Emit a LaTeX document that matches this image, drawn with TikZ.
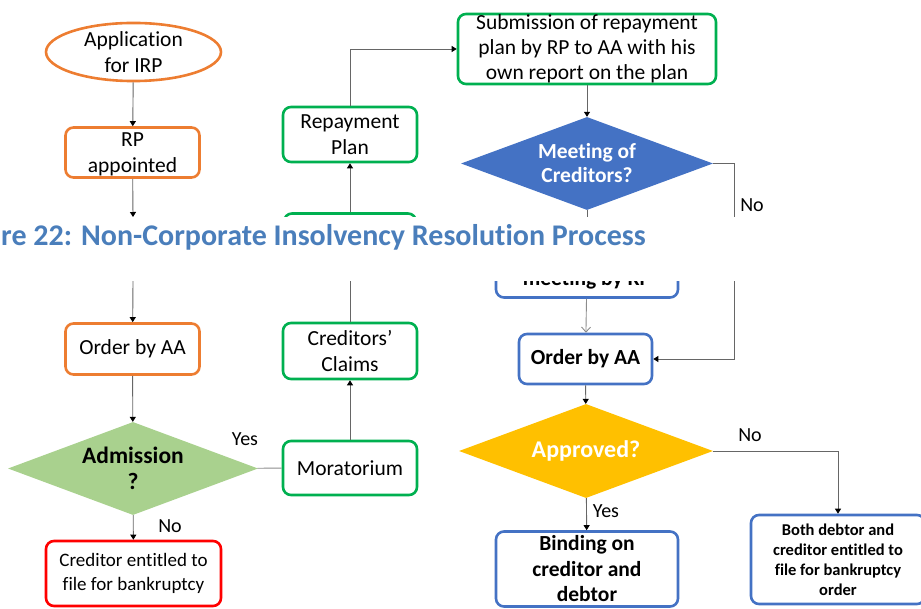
\documentclass[tikz,border=0pt]{standalone}
\usepackage{fontspec}
\setmainfont{Carlito}[Ligatures=NoCommon]
\usetikzlibrary{shapes.geometric,arrows.meta}
\definecolor{irporange}{HTML}{ED7D31}
\definecolor{irpgreen}{HTML}{00B050}
\definecolor{irpblue}{HTML}{4472C4}
\definecolor{irpred}{HTML}{FF0000}
\definecolor{irplime}{HTML}{A9D18E}
\definecolor{irpgold}{HTML}{FFC000}
\definecolor{irpcaption}{HTML}{4A7EBB}
\tikzset{
  flow box/.style={rectangle, rounded corners=8pt, line width=2.6pt, align=center, inner sep=1pt, font=\fontsize{21.5}{26}\selectfont},
  start/.style={ellipse, draw=irporange, line width=2.6pt, align=center, inner sep=0pt, font=\fontsize{21.5}{26}\selectfont},
  orange box/.style={flow box, draw=irporange},
  green box/.style={flow box, draw=irpgreen},
  blue box/.style={flow box, draw=irpblue, font=\bfseries\fontsize{21.5}{25.5}\selectfont},
  red box/.style={flow box, draw=irpred, font=\fontsize{19}{23.5}\selectfont},
  decision/.style={diamond, aspect=2.7, inner sep=0pt, align=center, font=\bfseries\fontsize{21.5}{24}\selectfont},
  link/.style={draw=black!60, line width=0.9pt, arrows={-{Triangle[width=6pt,length=5pt,color=black]}}},
  plain link/.style={draw=black!45, line width=0.9pt},
  open link/.style={draw=black!45, line width=0.9pt, arrows={-{Straight Barb[width=9pt,length=5pt]}}},
  branch label/.style={anchor=base, inner sep=0pt, font=\fontsize{20}{24}\selectfont},
  cut text/.style={anchor=base, inner sep=0pt, font=\bfseries\fontsize{21.5}{25.5}\selectfont},
  figure caption/.style={anchor=base west, inner sep=0pt, text=irpcaption, font=\bfseries\fontsize{30}{36}\selectfont}
}
\begin{document}
\begin{tikzpicture}[x=1pt, y=-1pt]
  \useasboundingbox (0,0) rectangle (921,609);

  \node[start, minimum width=175pt, minimum height=58pt] at (133.5,52) (app) {Application\\for IRP};
  \node[orange box, minimum width=134pt, minimum height=50pt, text depth=0pt] at (132.5,152.5) (rp) {RP\\appointed};
  \node[orange box, minimum width=134pt, minimum height=51pt] at (132.5,349) (order left) {Order by AA};
  \node[decision, fill=irplime, minimum width=250pt, minimum height=93pt, font=\bfseries\fontsize{23.5}{26}\selectfont] at (133,468.5) (admission) {Admission\\?};
  \node[red box, minimum width=175pt, minimum height=65pt] at (133.5,573.5) (creditor file) {Creditor entitled to\\file for bankruptcy};
  \coordinate (left in) at (133,217);
  \coordinate (left out) at (133,281);

  \node[green box, minimum width=134pt, minimum height=54pt] at (350,468) (moratorium) {Moratorium};
  \node[green box, minimum width=134pt, minimum height=56pt] at (350,351) (claims) {Creditors’\\Claims};
  \node[green box, minimum width=132pt, minimum height=56pt] at (350,241.5) (green mid) {};
  \node[green box, minimum width=134pt, minimum height=55pt] at (350,134.5) (repayment) {Repayment\\Plan};

  \node[green box, minimum width=258pt, minimum height=70pt, inner sep=0pt, font=\fontsize{21.5}{25}\selectfont] at (587,49) (submission) {Submission of repayment\\plan by RP to AA with his\\own report on the plan};
  \node[decision, fill=irpblue, text=white, minimum width=252pt, minimum height=93pt] at (587,163.5) (meeting) {Meeting of\\Creditors?};
  \coordinate (no corner) at (734,163.5);
  \node[blue box, minimum width=182pt, minimum height=57pt] at (587,269) (convene) {};
  \node[cut text] at (587,286) (convene text) {meeting by RP};
  \node[blue box, minimum width=133pt, minimum height=50pt] at (585.5,359) (order right) {Order by AA};
  \node[decision, fill=irpgold, text=white, minimum width=254pt, minimum height=94pt, font=\bfseries\fontsize{24}{28}\selectfont] at (586,451) (approved) {Approved?};
  \node[blue box, minimum width=182pt, minimum height=75pt] at (587,569) (binding) {Binding on\\creditor and\\debtor};
  \node[blue box, minimum width=174pt, minimum height=89pt, font=\bfseries\fontsize{16.5}{20}\selectfont] at (838,559.5) (both file) {Both debtor and\\creditor entitled to\\file for bankruptcy\\order};

  \draw[link] (app) -- (rp);
  \draw[link] (rp) -- (left in);
  \draw[link] (left out) -- (order left);
  \draw[link] (order left) -- (admission);
  \draw[link] (admission) -- (creditor file);
  \draw[plain link] (admission) -- (moratorium);
  \draw[link] (moratorium) -- (claims);
  \draw[link] (claims) -- (green mid);
  \draw[link] (green mid) -- (repayment);
  \draw[link] (repayment) |- (submission);
  \draw[link] (submission) -- (meeting);
  \draw[link] (meeting) -- (convene);
  \draw[link] (meeting) -- (no corner) |- (order right);
  \draw[open link] (convene) -- (order right);
  \draw[link] (order right) -- (approved);
  \draw[link] (approved) -- (binding);
  \draw[link] (approved) -| (both file);

  \node[branch label] at (245,445) (yes left) {Yes};
  \node[branch label] at (170,532) (no left) {No};
  \node[branch label] at (752,212) (no top) {No};
  \node[branch label] at (750,442) (no right) {No};
  \node[branch label] at (606,517) (yes right) {Yes};

  \fill[white] (0,217) rectangle (921,281);
  \node[figure caption] at (1,246) (caption) {re 22: Non-Corporate Insolvency Resolution Process};
\end{tikzpicture}
\end{document}
